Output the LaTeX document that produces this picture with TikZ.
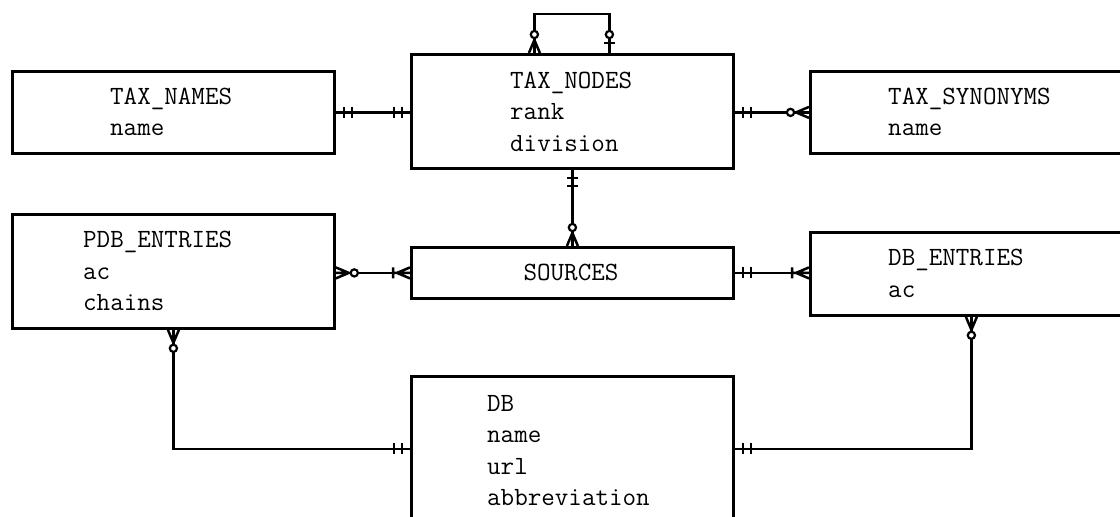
\documentclass[tikz,border=0pt]{standalone}
\usepackage{fontspec}
\begin{document}
\begin{tikzpicture}[x=1pt,y=-1pt,
  box/.style={draw, line width=2.8pt, rectangle, inner sep=0pt, anchor=north west},
  txt/.style={anchor=base west, inner sep=0pt, font=\fontsize{26.3}{31}\selectfont\ttfamily},
  conn/.style={line width=2.8pt},
  sym/.style={line width=2.5pt},
  mone/.pic={\draw[sym] (8,-5.5)--(8,5.5) (16,-5.5)--(16,5.5);},
  mzmany/.pic={\draw[sym] (0,-5.5)--(13,0)--(0,5.5) (0,0)--(13,0); \filldraw[sym,line width=2.2pt,fill=white] (18.5,0) circle (3.6);},
  momany/.pic={\draw[sym] (0,-5.5)--(13,0)--(0,5.5) (0,0)--(17,0) (17,-5.5)--(17,5.5);},
  mzone/.pic={\draw[sym] (10,-5.5)--(10,5.5); \filldraw[sym,line width=2.2pt,fill=white] (18.5,0) circle (3.6);},
]
\useasboundingbox (0,0) rectangle (1120,517);
\clip (0,0) rectangle (1120,517);

% entities
\node[box, minimum width=322pt, minimum height=82pt]  (tnames) at (11,70) {};
\node[box, minimum width=322pt, minimum height=114pt] (tnodes) at (410,53) {};
\node[box, minimum width=322pt, minimum height=82pt]  (tsyn)   at (809,70) {};
\node[box, minimum width=322pt, minimum height=114pt] (pdb)    at (11,213) {};
\node[box, minimum width=322pt, minimum height=51pt]  (src)    at (410,246) {};
\node[box, minimum width=322pt, minimum height=83pt]  (dbe)    at (809,231) {};
\node[box, minimum width=322pt, minimum height=145pt] (db)     at (410,375) {};

% texts
\node[txt] (t1a) at (110,104) {TAX\_NAMES};
\node[txt] (t1b) at (110,135.5) {name};
\node[txt] (t2a) at (510,88) {TAX\_NODES};
\node[txt] (t2b) at (510,119.5) {rank};
\node[txt] (t2c) at (510,151) {division};
\node[txt] (t3a) at (888,104) {TAX\_SYNONYMS};
\node[txt] (t3b) at (888,135.5) {name};
\node[txt] (t4a) at (83,247.5) {PDB\_ENTRIES};
\node[txt] (t4b) at (83,279) {ac};
\node[txt] (t4c) at (83,310.5) {chains};
\node[txt, anchor=base] (t5a) at (571,280) {SOURCES};
\node[txt] (t6a) at (888,265.5) {DB\_ENTRIES};
\node[txt] (t6b) at (888,297) {ac};
\node[txt] (t7a) at (487,411) {DB};
\node[txt] (t7b) at (487,442.5) {name};
\node[txt] (t7c) at (487,474) {url};
\node[txt] (t7d) at (487,505.5) {abbreviation};

% connectors
\draw[conn] (tnames.east) -- (tnames.east -| tnodes.west);
\draw[conn] (tnodes.east |- tsyn.west) -- (tsyn.west);
\draw[conn] (tnodes.south) -- (src.north);
\draw[conn] (pdb.east |- src.west) -- (src.west);
\draw[conn] (src.east) -- (src.east -| dbe.west);
\draw[conn] (pdb.south) |- (db.west);
\draw[conn] (dbe.south) |- (db.east);
\draw[conn] ([xshift=-38pt]tnodes.north) -- ++(0,-39) -| ([xshift=37pt]tnodes.north);

% cardinality marks
\pic at (tnames.east) {mone};
\pic[rotate=180] at (tnames.east -| tnodes.west) {mone};
\pic at (tnodes.east |- tsyn.west) {mone};
\pic[rotate=180] at (tsyn.west) {mzmany};
\pic[rotate=-90] at (tnodes.south) {mone};
\pic[rotate=90] at (src.north) {mzmany};
\pic at (pdb.east |- src.west) {mzmany};
\pic[rotate=180] at (src.west) {momany};
\pic at (src.east) {mone};
\pic[rotate=180] at (src.east -| dbe.west) {momany};
\pic[rotate=-90] at (pdb.south) {mzmany};
\pic[rotate=180] at (db.west) {mone};
\pic[rotate=-90] at (dbe.south) {mzmany};
\pic at (db.east) {mone};
\pic[rotate=90] at ([xshift=-38pt]tnodes.north) {mzmany};
\pic[rotate=90] at ([xshift=37pt]tnodes.north) {mzone};
\end{tikzpicture}
\end{document}
